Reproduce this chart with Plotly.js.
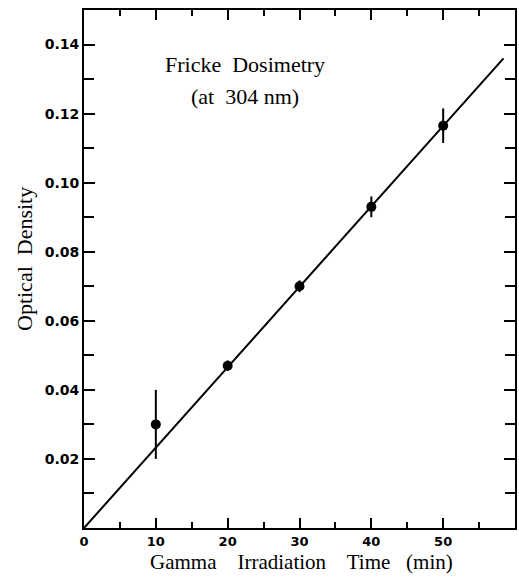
<!DOCTYPE html>
<html>
<head>
<meta charset="utf-8">
<script src="https://cdn.plot.ly/plotly-3.0.1.min.js"></script>
<style>html,body{margin:0;padding:0;background:#fff;}</style>
</head>
<body>
<div id="chart" style="width:519px;height:579px;"></div>
<script>
// Measured data (Gamma irradiation time in min vs optical density)
var timeMin = [10, 20, 30, 40, 50];
var opticalDensity = [0.030, 0.047, 0.070, 0.093, 0.1165];
var odError = [0.010, 0.0015, 0.0017, 0.003, 0.005];

// Fitted straight line
var fitTime = [0, 58.4];
var fitDensity = [0, 0.136];

// Tick labels
var xTickVals = [0, 10, 20, 30, 40, 50];
var xTickText = ['0', '10', '20', '30', '40', '50'];
var yTickVals = [0.02, 0.04, 0.06, 0.08, 0.10, 0.12, 0.14];
var yTickText = ['0.02', '0.04', '0.06', '0.08', '0.10', '0.12', '0.14'];

var serif = 'Liberation Serif, Times New Roman, serif';
var sans = 'DejaVu Sans, sans-serif';

var traces = [
  {
    x: fitTime, y: fitDensity, type: 'scatter', mode: 'lines',
    line: {color: '#000', width: 2}, hoverinfo: 'skip', showlegend: false
  },
  {
    x: timeMin, y: opticalDensity, type: 'scatter', mode: 'markers',
    marker: {color: '#000', size: 10},
    error_y: {type: 'data', array: odError, visible: true, color: '#000', thickness: 2, width: 0},
    showlegend: false
  }
];

var layout = {
  width: 519, height: 579,
  margin: {l: 84, r: 4, t: 10, b: 51},
  paper_bgcolor: '#fff', plot_bgcolor: '#fff',
  showlegend: false,
  xaxis: {
    range: [0, 60], tickmode: 'array', tickvals: xTickVals, ticktext: xTickText,
    ticks: 'inside', ticklen: 10, tickwidth: 2, tickcolor: '#000',
    showline: true, linewidth: 2, linecolor: '#000', mirror: 'ticks',
    showgrid: false, zeroline: false,
    tickfont: {family: sans, size: 13, color: '#000', weight: 'bold'},
    minor: {dtick: 5, tick0: 0, ticks: 'inside', ticklen: 6, tickwidth: 2, tickcolor: '#000', showgrid: false}
  },
  yaxis: {
    range: [0, 0.15], tickmode: 'array', tickvals: yTickVals, ticktext: yTickText,
    ticks: 'inside', ticklen: 11, tickwidth: 2, tickcolor: '#000',
    showline: true, linewidth: 2, linecolor: '#000', mirror: 'ticks',
    showgrid: false, zeroline: false,
    tickfont: {family: sans, size: 14, color: '#000', weight: 'bold'},
    minor: {dtick: 0.01, tick0: 0, ticks: 'inside', ticklen: 10, tickwidth: 2, tickcolor: '#000', showgrid: false}
  },
  annotations: [
    {text: 'Fricke&nbsp; Dosimetry', xref: 'paper', yref: 'paper', x: (245-84)/431, y: (528-64)/518,
     showarrow: false, xanchor: 'center', yanchor: 'middle', font: {family: serif, size: 22, color: '#000'}},
    {text: '(at&nbsp; 304 nm)', xref: 'paper', yref: 'paper', x: (245-84)/431, y: (528-96)/518,
     showarrow: false, xanchor: 'center', yanchor: 'middle', font: {family: serif, size: 22, color: '#000'}},
    {text: 'Gamma&nbsp;&nbsp;&nbsp; Irradiation&nbsp;&nbsp;&nbsp; Time&nbsp;&nbsp; (min)', xref: 'paper', yref: 'paper', x: (301-84)/431, y: (528-562)/518,
     showarrow: false, xanchor: 'center', yanchor: 'middle', font: {family: serif, size: 21, color: '#000'}},
    {text: 'Optical&nbsp; Density', xref: 'paper', yref: 'paper', x: (24-84)/431, y: (528-259)/518,
     showarrow: false, xanchor: 'center', yanchor: 'middle', textangle: -90, font: {family: serif, size: 22, color: '#000'}}
  ]
};

Plotly.newPlot('chart', traces, layout, {staticPlot: true, displayModeBar: false});
</script>
</body>
</html>
